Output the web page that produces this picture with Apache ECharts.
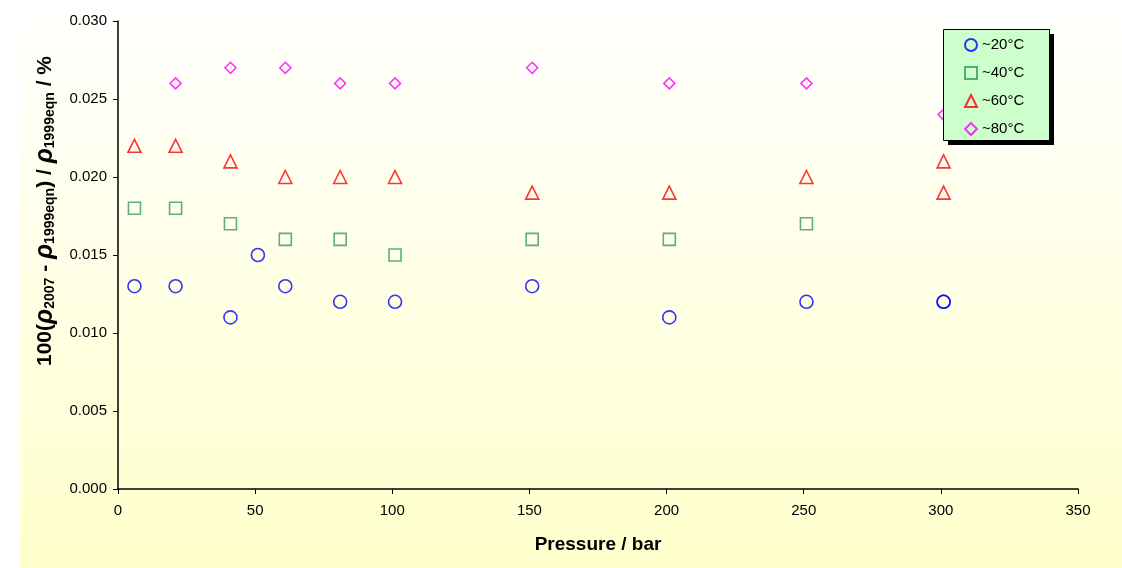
<!DOCTYPE html>
<html>
<head>
<meta charset="utf-8">
<script src="https://cdn.jsdelivr.net/npm/echarts@6/dist/echarts.min.js"></script>
<style>
  html, body { margin: 0; padding: 0; background: #fff; }
  #chart { width: 1122px; height: 568px; }
</style>
</head>
<body>
<div id="chart"></div>
<script>
// pressure (bar) and deviation (%) for each temperature
const p20 = [6, 21, 41, 51, 61, 81, 101, 151, 201, 251, 301, 301]
const v20 = [0.013, 0.013, 0.011, 0.015, 0.013, 0.012, 0.012, 0.013, 0.011, 0.012, 0.012, 0.012]
const p40 = [6, 21, 41, 61, 81, 101, 151, 201, 251]
const v40 = [0.018, 0.018, 0.017, 0.016, 0.016, 0.015, 0.016, 0.016, 0.017]
const p60 = [6, 21, 41, 61, 81, 101, 151, 201, 251, 301, 301]
const v60 = [0.022, 0.022, 0.021, 0.020, 0.020, 0.020, 0.019, 0.019, 0.020, 0.021, 0.019]
const p80 = [21, 41, 61, 81, 101, 151, 201, 251, 301]
const v80 = [0.026, 0.027, 0.027, 0.026, 0.026, 0.027, 0.026, 0.026, 0.024]

const seriesNames = ['~20°C', '~40°C', '~60°C', '~80°C']
const xTicks = [0, 50, 100, 150, 200, 250, 300, 350]
const yTicks = [0, 0.005, 0.010, 0.015, 0.020, 0.025, 0.030]

function zip(xs, ys) {
    return xs.map((x, i) => [x, ys[i]])
}

// hollow markers like the excel chart
function hollow(name, xs, ys, symbol, color, size) {
    return {
        name: name,
        type: 'scatter',
        symbol: symbol,
        symbolSize: size,
        z: 3,
        itemStyle: { color: 'rgba(0,0,0,0)', borderColor: color, borderWidth: 1.6 },
        data: zip(xs, ys)
    }
}

const chart = echarts.init(document.getElementById('chart'))

const option = {
    animation: false,
    backgroundColor: '#ffffff',
    grid: { left: 118, right: 44, top: 21, bottom: 79 },
    legend: {
        orient: 'vertical',
        left: 964,
        top: 37,
        padding: 0,
        itemGap: 12,
        itemWidth: 12,
        itemHeight: 12,
        z: 10,
        textStyle: { fontFamily: 'Liberation Sans', fontSize: 15, lineHeight: 16, color: '#000' },
        data: seriesNames
    },
    xAxis: {
        type: 'value',
        min: 0, max: 350, interval: 50,
        name: 'Pressure / bar',
        nameLocation: 'middle',
        nameGap: 46,
        nameTextStyle: { fontFamily: 'Liberation Sans', fontSize: 19, fontWeight: 'bold', color: '#000' },
        axisLine: { onZero: false, lineStyle: { color: '#000', width: 1.5 } },
        axisTick: { show: true, length: 5, lineStyle: { color: '#000' } },
        axisLabel: {
            fontFamily: 'Liberation Sans', fontSize: 15, color: '#000', margin: 14,
            formatter: v => xTicks.includes(v) ? String(v) : ''
        },
        splitLine: { show: false }
    },
    yAxis: {
        type: 'value',
        min: 0, max: 0.03, interval: 0.005,
        axisLine: { show: true, lineStyle: { color: '#000', width: 1.5 } },
        axisTick: { show: true, length: 5, lineStyle: { color: '#000' } },
        axisLabel: {
            fontFamily: 'Liberation Sans', fontSize: 15, color: '#000', margin: 11,
            formatter: v => {
                const t = yTicks.find(y => Math.abs(y - v) < 1e-9)
                return t === undefined ? '' : t.toFixed(3)
            }
        },
        splitLine: { show: false }
    },
    graphic: [
        {
            // chart area fill
            type: 'rect',
            z: -10,
            shape: { x: 20, y: 0, width: 1102, height: 568 },
            style: {
                fill: {
                    type: 'linear', x: 0, y: 0, x2: 0, y2: 1,
                    colorStops: [{ offset: 0, color: '#ffffff' }, { offset: 1, color: '#ffffcc' }]
                }
            }
        },
        {
            // legend shadow
            type: 'rect',
            z: 5,
            shape: { x: 948, y: 34, width: 106, height: 111 },
            style: { fill: '#000' }
        },
        {
            // legend box
            type: 'rect',
            z: 6,
            shape: { x: 943.5, y: 29.5, width: 106, height: 111 },
            style: { fill: '#ccffcc', stroke: '#000', lineWidth: 1 }
        },
        {
            type: 'text',
            x: 45,
            y: 211,
            rotation: Math.PI / 2,
            style: {
                text: '{b|100(}{r|ρ}{s|2007}{b| - }{r|ρ}{s|1999eqn}{b|) / }{r|ρ}{s|1999eqn}{b| / %}',
                align: 'center',
                verticalAlign: 'middle',
                rich: {
                    b: { fontFamily: 'Liberation Sans', fontSize: 21, fontWeight: 'bold', fill: '#000', height: 28, verticalAlign: 'middle' },
                    r: { fontFamily: 'Liberation Sans', fontSize: 25, fontWeight: 'bold', fontStyle: 'italic', fill: '#000', height: 28, verticalAlign: 'middle' },
                    s: { fontFamily: 'Liberation Sans', fontSize: 14, fontWeight: 'bold', fill: '#000', height: 28, verticalAlign: 'bottom', padding: [11, 0, 0, 0] }
                }
            }
        }
    ],
    series: [
        hollow(seriesNames[0], p20, v20, 'circle', '#0000ff', 13),
        hollow(seriesNames[1], p40, v40, 'rect', '#339966', 12),
        hollow(seriesNames[2], p60, v60, 'triangle', '#ff0000', 13),
        hollow(seriesNames[3], p80, v80, 'diamond', '#ff00ff', 11)
    ]
}

chart.setOption(option)
</script>
</body>
</html>
